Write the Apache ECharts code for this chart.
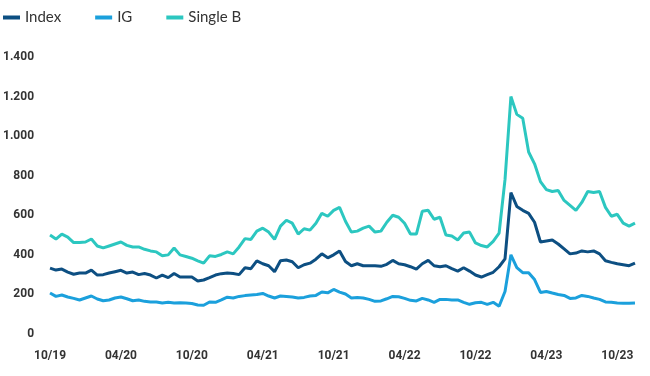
<!DOCTYPE html>
<html>
<head>
<meta charset="utf-8">
<script src="https://cdn.jsdelivr.net/npm/echarts@6/dist/echarts.min.js"></script>
<style>
  html, body { margin: 0; padding: 0; background: #fff; }
  #chart { width: 650px; height: 376px; }
</style>
</head>
<body>
<div id="chart"></div>
<script>
// x = months since 10/19, two readings per month
var tickLabels = ['10/19', '04/20', '10/20', '04/21', '10/21', '04/22', '10/22', '04/23', '10/23'];
var seriesNames = ['Index', 'IG', 'Single B'];

var indexVals = [333, 323, 328, 313, 302, 308, 308, 323, 298, 300,
    308, 315, 322, 308, 313, 300, 306, 298, 283, 298,
    285, 306, 288, 288, 288, 268, 273, 285, 298, 305,
    308, 306, 300, 335, 330, 370, 355, 345, 315, 370,
    374, 365, 335, 350, 358, 378, 405, 385, 400, 420,
    366, 345, 355, 345, 345, 345, 342, 352, 372, 355,
    350, 340, 328, 355, 372, 345, 340, 345, 330, 318,
    335, 318, 298, 288, 300, 312, 340, 380, 715, 645,
    625, 610, 565, 465, 470, 475, 455, 430, 405, 409,
    420, 415, 420, 405, 370, 362, 355, 350, 345, 358];

var igVals = [207, 190, 197, 187, 180, 172, 182, 192, 177, 168,
    172, 182, 187, 178, 168, 172, 165, 162, 162, 157,
    160, 157, 158, 157, 154, 147, 145, 162, 160, 172,
    186, 182, 190, 194, 197, 200, 205, 192, 182, 192,
    190, 187, 182, 185, 192, 195, 212, 208, 225, 212,
    202, 182, 184, 182, 175, 165, 167, 178, 190, 188,
    180, 170, 167, 180, 172, 160, 175, 175, 172, 172,
    160, 150, 158, 160, 150, 160, 140, 215, 400, 335,
    310, 310, 275, 210, 215, 207, 200, 195, 180, 182,
    195, 190, 182, 175, 162, 160, 157, 155, 155, 157];

var singleBVals = [500, 480, 505, 490, 462, 462, 465, 480, 445, 435,
    445, 455, 465, 448, 440, 440, 428, 420, 415, 395,
    400, 435, 400, 392, 383, 370, 358, 395, 392, 402,
    415, 405, 440, 482, 478, 520, 535, 515, 478, 545,
    575, 560, 505, 532, 525, 560, 610, 595, 625, 640,
    570, 515, 520, 535, 545, 515, 520, 565, 600, 590,
    560, 505, 505, 620, 625, 580, 590, 500, 495, 475,
    510, 515, 460, 447, 440, 468, 510, 780, 1200, 1110,
    1090, 920, 860, 770, 730, 720, 725, 675, 650, 625,
    665, 720, 715, 720, 640, 595, 605, 560, 545, 560];

var colors = ['#0d4f82', '#1ba0dc', '#2cc7c0'];

function toPairs(vals) {
    return vals.map(function (v, i) { return [i * 0.5, v]; });
}

var chart = echarts.init(document.getElementById('chart'), null, { renderer: 'canvas' });

var option = {
    animation: false,
    color: colors,
    legend: {
        left: -2,
        top: 5,
        icon: 'rect',
        itemWidth: 17,
        itemHeight: 4,
        itemGap: 34,
        textStyle: { fontFamily: 'Lato', fontSize: 15, color: '#333' },
        data: seriesNames
    },
    grid: { left: 49, right: 15, top: 57, bottom: 42, containLabel: false },
    xAxis: {
        type: 'value',
        min: 0,
        max: 49.5,
        interval: 6,
        axisLine: { show: false },
        axisTick: { show: false },
        splitLine: { show: false },
        axisLabel: {
            margin: 16,
            showMaxLabel: false,
            fontFamily: 'Roboto',
            fontWeight: 'bold',
            fontSize: 12,
            color: '#333',
            formatter: function (v) {
                var k = Math.round(v / 6);
                return (v % 6 === 0 && tickLabels[k]) ? tickLabels[k] : '';
            }
        }
    },
    yAxis: {
        type: 'value',
        min: 0,
        max: 1400,
        interval: 200,
        axisLine: { show: false },
        axisTick: { show: false },
        splitLine: { show: false },
        axisLabel: {
            margin: 16,
            fontFamily: 'Roboto',
            fontWeight: 'bold',
            fontSize: 12,
            color: '#333',
            formatter: function (v) {
                return v >= 1000 ? Math.floor(v / 1000) + '.' + String(v % 1000).padStart(3, '0') : String(v);
            }
        }
    },
    series: [
        { name: seriesNames[0], type: 'line', data: toPairs(indexVals) },
        { name: seriesNames[1], type: 'line', data: toPairs(igVals) },
        { name: seriesNames[2], type: 'line', data: toPairs(singleBVals) }
    ].map(function (s) {
        s.showSymbol = false;
        s.symbol = 'none';
        s.lineStyle = { width: 3 };
        return s;
    })
};

chart.setOption(option);
</script>
</body>
</html>
